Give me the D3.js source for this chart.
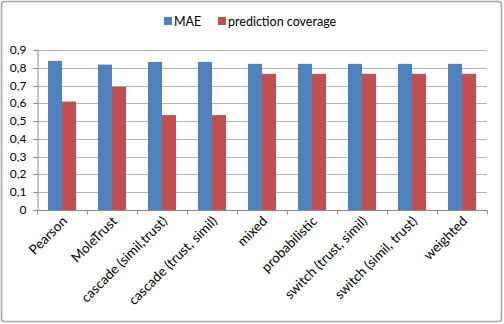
<!DOCTYPE html>
<html><head><meta charset="utf-8">
<script src="https://cdn.jsdelivr.net/npm/d3@7"></script>
<style>body{margin:0;background:#fff}svg{display:block}text{font-family:Lato,"Open Sans",sans-serif;fill:#000}</style>
</head><body><svg id="c" width="504" height="324"></svg>
<script>
const categories = ["Pearson","MoleTrust","cascade (simil,trust)","cascade (trust, simil)","mixed","probabilistic","switch (trust, simil)","switch (simil, trust)","weighted"];
const seriesNames = ["MAE","prediction coverage"];
const mae = [0.839,0.818,0.833,0.833,0.822,0.822,0.822,0.822,0.822];
const coverage = [0.61,0.693,0.534,0.534,0.766,0.766,0.766,0.766,0.766];
const yTicks = [0,0.1,0.2,0.3,0.4,0.5,0.6,0.7,0.8,0.9];
const yTickLabels = ["0","0,1","0,2","0,3","0,4","0,5","0,6","0,7","0,8","0,9"];
const colors = ["#4F81BD","#C0504D"];

const svg = d3.select("#c");
svg.append("rect").attr("x",1.5).attr("y",1.5).attr("width",500).attr("height",320).attr("rx",3)
  .attr("fill","#fff").attr("stroke","#a6a6a6").attr("stroke-width",1.5);

const L=37, R=487, T=50, B=210;
const x = d3.scaleBand().domain(categories).range([L,R]).paddingInner(0.44).paddingOuter(0.22);
const xs = d3.scaleBand().domain(seriesNames).range([0,x.bandwidth()]);
const y = d3.scaleLinear().domain([0,0.9]).range([B,T]);

svg.append("g").selectAll("line").data(yTicks.filter(d=>d>0)).join("line")
  .attr("x1",L).attr("x2",R).attr("y1",d=>Math.round(y(d))+0.5).attr("y2",d=>Math.round(y(d))+0.5)
  .attr("stroke","#b4b4b4").attr("stroke-width",1);

const data = categories.map((c,i)=>({c, v:[mae[i],coverage[i]]}));
const g = svg.append("g").selectAll("g").data(data).join("g").attr("transform",d=>`translate(${x(d.c)},0)`);
g.selectAll("rect").data(d=>d.v.map((v,j)=>({s:seriesNames[j],v,j}))).join("rect")
  .attr("x",d=>xs(d.s)).attr("width",xs.bandwidth()).attr("y",d=>y(d.v)).attr("height",d=>B-y(d.v))
  .attr("fill",d=>colors[d.j]);

const yAxis = d3.axisLeft(y).tickValues(yTicks).tickFormat((d,i)=>yTickLabels[i]).tickSize(4).tickPadding(7);
const ya = svg.append("g").attr("transform",`translate(${L+0.5},0)`).call(yAxis);
ya.selectAll("path,line").attr("stroke","#8c8c8c");
ya.selectAll("text").attr("font-size",12).style("font-family","Lato, 'Open Sans', sans-serif");
ya.selectAll(".tick").attr("transform",d=>`translate(0,${Math.round(y(d))+0.5})`);

const xAxis = d3.axisBottom(x).tickSize(0).tickFormat("");
const xa = svg.append("g").attr("transform",`translate(0,${B+0.5})`).call(xAxis);
xa.select("path").attr("stroke","#8c8c8c").attr("d",`M${L},0H${R}`);
const boundaries = d3.range(categories.length+1).map(i=>L+i*(R-L)/categories.length);
xa.selectAll("line.b").data(boundaries).join("line").attr("class","b")
  .attr("x1",d=>Math.round(d)+0.5).attr("x2",d=>Math.round(d)+0.5).attr("y1",0).attr("y2",4).attr("stroke","#8c8c8c");
svg.append("g").selectAll("text").data(categories).join("text")
  .attr("transform",d=>`translate(${x(d)+x.bandwidth()/2+6},${B+12}) rotate(-45)`)
  .attr("text-anchor","end").attr("font-size",13.5).text(d=>d);

const leg = svg.append("g");
const legX = [164,218];
seriesNames.forEach((s,i)=>{
  leg.append("rect").attr("x",legX[i]).attr("y",17).attr("width",8).attr("height",8).attr("fill",colors[i]);
  leg.append("text").attr("x",legX[i]+10).attr("y",25.5).attr("font-size",12.5).text(s);
});
</script></body></html>
